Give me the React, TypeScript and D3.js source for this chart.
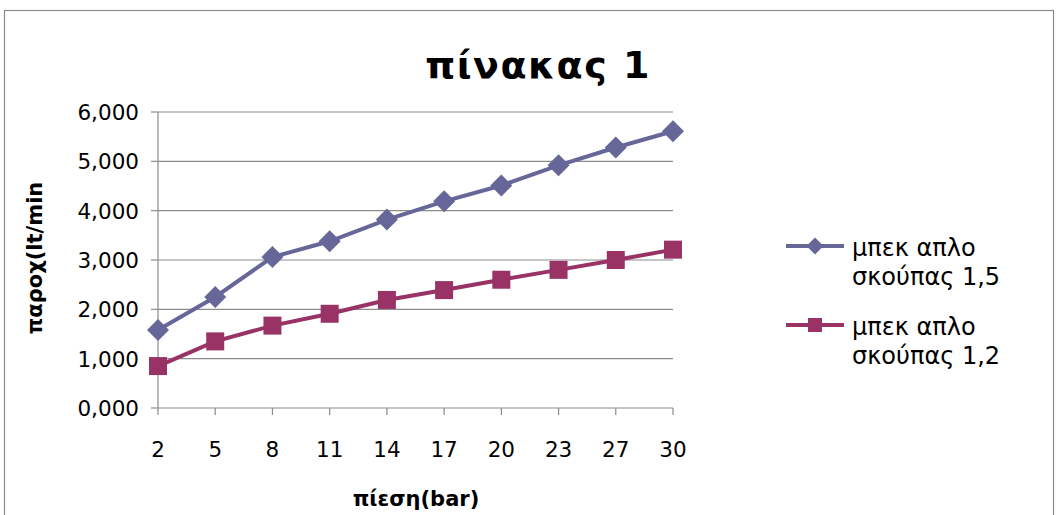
import React from "react";
import * as d3 from "d3";

// Pressure categories (bar) and flow per nozzle type
const pressures: string[] = ["2", "5", "8", "11", "14", "17", "20", "23", "27", "30"];
const nozzle15: number[] = [1.58, 2.25, 3.06, 3.38, 3.82, 4.19, 4.51, 4.92, 5.28, 5.61];
const nozzle12: number[] = [0.85, 1.35, 1.67, 1.91, 2.19, 2.39, 2.6, 2.8, 3.0, 3.21];
const yTicks: number[] = [0, 1, 2, 3, 4, 5, 6];
const seriesNames: string[][] = [
  ["μπεκ απλο", "σκούπας 1,5"],
  ["μπεκ απλο", "σκούπας 1,2"],
];

const W = 1058;
const H = 515;
const plot = { left: 158, right: 673, top: 112, bottom: 408 };
const BLUE = "#666699";
const WINE = "#993366";
const GRID = "#8c8c8c";
const FONT = "'DejaVu Sans', sans-serif";

const fmt = (v: number) => v.toFixed(3).replace(".", ",");

export default function App() {
  const x = d3.scalePoint<string>().domain(pressures).range([plot.left, plot.right]).padding(0);
  const y = d3.scaleLinear().domain([0, 6]).range([plot.bottom, plot.top]);
  const line = d3
    .line<number>()
    .x((_, i) => x(pressures[i]) as number)
    .y((d) => y(d));

  const diamond = (cx: number, cy: number, r: number) =>
    `M${cx},${cy - r}L${cx + r},${cy}L${cx},${cy + r}L${cx - r},${cy}Z`;
  const square = (cx: number, cy: number, s: number) =>
    `M${cx - s / 2},${cy - s / 2}h${s}v${s}h${-s}Z`;

  const legendY = [246, 325];

  return (
    <svg width={W} height={H} style={{ position: "absolute", left: 0, top: 0 }} fontFamily={FONT}>
      <rect x={0} y={0} width={W} height={H} fill="#fff" />
      <rect x={4.5} y={10.5} width={1049} height={520} fill="none" stroke="#8a8a8a" strokeWidth={1.2} />

      <text x={538} y={78} textAnchor="middle" fontSize={38} fontWeight="bold" letterSpacing={1.5} fill="#000">
        πίνακας 1
      </text>

      {/* gridlines and y ticks */}
      {yTicks.map((t) => (
        <g key={t}>
          <line x1={plot.left} x2={plot.right} y1={y(t)} y2={y(t)} stroke={GRID} strokeWidth={1.2} />
          <line x1={plot.left - 7} x2={plot.left} y1={y(t)} y2={y(t)} stroke={GRID} strokeWidth={1.2} />
          <text x={139} y={y(t) + 8} textAnchor="end" fontSize={21.5} fill="#000">
            {fmt(t)}
          </text>
        </g>
      ))}
      <line x1={plot.left} x2={plot.left} y1={plot.top} y2={plot.bottom} stroke={GRID} strokeWidth={1.2} />

      {/* x ticks */}
      {pressures.map((p) => (
        <g key={p}>
          <line x1={x(p)} x2={x(p)} y1={plot.bottom} y2={plot.bottom + 7} stroke={GRID} strokeWidth={1.2} />
          <text x={x(p)} y={457} textAnchor="middle" fontSize={21.5} fill="#000">
            {p}
          </text>
        </g>
      ))}

      <text x={416} y={506} textAnchor="middle" fontSize={21} fontWeight="bold" fill="#000">
        πίεση(bar)
      </text>
      <text
        transform="translate(42,258) rotate(-90)"
        textAnchor="middle"
        fontSize={21}
        fontWeight="bold"
        fill="#000"
      >
        παροχ(lt/min
      </text>

      {/* series */}
      <path d={line(nozzle15) || ""} fill="none" stroke={BLUE} strokeWidth={4} />
      <path d={line(nozzle12) || ""} fill="none" stroke={WINE} strokeWidth={4} />
      {nozzle15.map((v, i) => (
        <path key={"a" + i} d={diamond(x(pressures[i]) as number, y(v), 11)} fill={BLUE} />
      ))}
      {nozzle12.map((v, i) => (
        <path key={"b" + i} d={square(x(pressures[i]) as number, y(v), 18)} fill={WINE} />
      ))}

      {/* legend */}
      {seriesNames.map((lines, k) => {
        const c = k === 0 ? BLUE : WINE;
        const ly = legendY[k];
        return (
          <g key={k}>
            <line x1={786} x2={844} y1={ly} y2={ly} stroke={c} strokeWidth={4} />
            {k === 0 ? <path d={diamond(815, ly, 8.5)} fill={c} /> : <path d={square(815, ly, 14)} fill={c} />}
            {lines.map((s, j) => (
              <text key={j} x={852} y={ly + 10 + j * 29} fontSize={24} fill="#000">
                {s}
              </text>
            ))}
          </g>
        );
      })}
    </svg>
  );
}
